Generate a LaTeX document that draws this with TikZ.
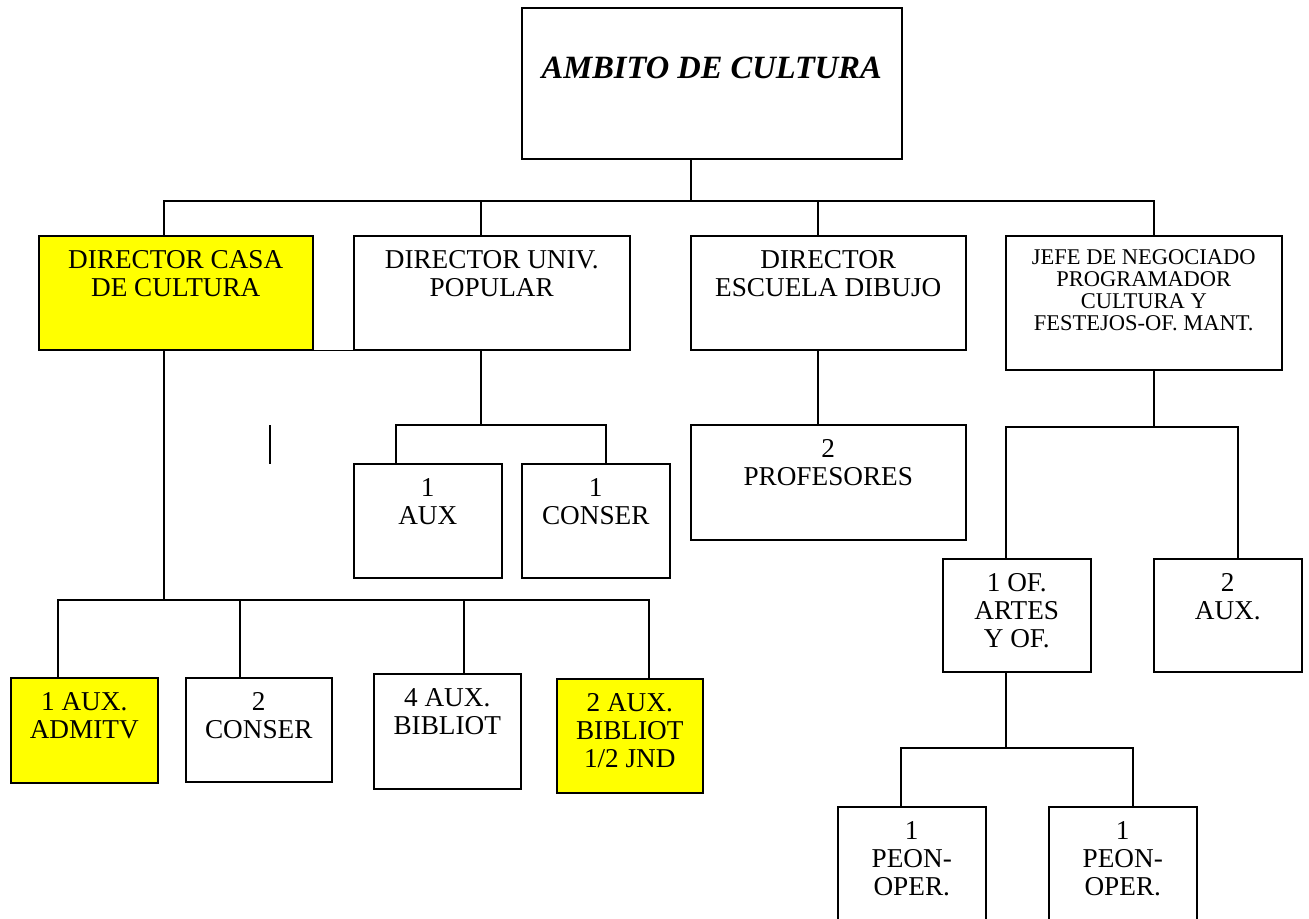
\documentclass[tikz,border=0pt]{standalone}
\usepackage{fontspec}
\setmainfont{Liberation Serif}
\definecolor{amarillo}{RGB}{255,255,0}
\tikzset{
  % caja del organigrama
  caja/.style = {
    draw = black,
    line width = 0.9pt,
    rectangle,
    anchor = north west,
    inner sep = 0
  },
  % caja resaltada en amarillo
  amarilla/.style = {
    caja,
    fill = amarillo
  },
  % texto dentro de una caja, colgado de su borde superior
  rotulo base/.style = {
    anchor = north,
    align = center,
    inner sep = 0
  },
  rotulo/.style = {
    rotulo base,
    yshift = -0.3cm,
    font = \fontsize{15.5}{15.94}\selectfont
  },
  rotulo chico/.style = {
    rotulo base,
    yshift = -0.28cm,
    font = \fontsize{12.8}{12.6}\selectfont
  },
  rotulo titulo/.style = {
    rotulo base,
    yshift = -1.0cm,
    font = \fontsize{18.5}{20}\selectfont\bfseries\itshape
  },
  linea/.style = {
    draw = black,
    line width = 0.9pt
  }
}
\begin{document}
\begin{tikzpicture}[x=0.02cm, y=-0.02cm]
    \useasboundingbox (0,0) rectangle (1309,919);

    % cajas
    \node[caja, minimum width=7.6cm, minimum height=3.02cm] (ambito) at (521,7) {};
    \node[amarilla, minimum width=5.48cm, minimum height=2.28cm] (casa) at (38,235) {};
    \node[caja, minimum width=5.52cm, minimum height=2.28cm] (univ) at (353,235) {};
    \node[caja, minimum width=5.5cm, minimum height=2.28cm] (escuela) at (690,235) {};
    \node[caja, minimum width=5.52cm, minimum height=2.68cm] (jefe) at (1005,235) {};
    \node[caja, minimum width=2.96cm, minimum height=2.28cm] (aux1) at (353,463) {};
    \node[caja, minimum width=2.96cm, minimum height=2.28cm] (conser1) at (521,463) {};
    \node[caja, minimum width=5.5cm, minimum height=2.3cm] (profes) at (690,424) {};
    \node[caja, minimum width=2.96cm, minimum height=2.26cm] (ofartes) at (942,558) {};
    \node[caja, minimum width=2.96cm, minimum height=2.26cm] (aux2) at (1153,558) {};
    \node[caja, minimum width=2.96cm, minimum height=2.6cm] (peon1) at (837,806) {};
    \node[caja, minimum width=2.96cm, minimum height=2.6cm] (peon2) at (1048,806) {};
    \node[amarilla, minimum width=2.94cm, minimum height=2.1cm] (admitv) at (10,677) {};
    \node[caja, minimum width=2.92cm, minimum height=2.08cm] (conser2) at (185,677) {};
    \node[caja, minimum width=2.94cm, minimum height=2.3cm] (biblio4) at (373,673) {};
    \node[amarilla, minimum width=2.92cm, minimum height=2.28cm] (biblio2) at (556,678) {};

    % textos
    \node[rotulo titulo] (ambito-t) at (ambito.north) {AMBITO DE CULTURA};
    \node[rotulo] (casa-t) at (casa.north) {DIRECTOR CASA\\DE CULTURA};
    \node[rotulo] (univ-t) at (univ.north) {DIRECTOR UNIV.\\POPULAR};
    \node[rotulo] (escuela-t) at (escuela.north) {DIRECTOR\\ESCUELA DIBUJO};
    \node[rotulo chico] (jefe-t) at (jefe.north) {JEFE DE NEGOCIADO\\PROGRAMADOR\\CULTURA Y\\FESTEJOS-OF. MANT.};
    \node[rotulo] (aux1-t) at (aux1.north) {1\\AUX};
    \node[rotulo] (conser1-t) at (conser1.north) {1\\CONSER};
    \node[rotulo] (profes-t) at (profes.north) {2\\PROFESORES};
    \node[rotulo] (ofartes-t) at (ofartes.north) {1 OF.\\ARTES\\Y OF.};
    \node[rotulo] (aux2-t) at (aux2.north) {2\\AUX.};
    \node[rotulo] (peon1-t) at (peon1.north) {1\\PEON-\\OPER.};
    \node[rotulo] (peon2-t) at (peon2.north) {1\\PEON-\\OPER.};
    \node[rotulo] (admitv-t) at (admitv.north) {1 AUX.\\ADMITV};
    \node[rotulo] (conser2-t) at (conser2.north) {2\\CONSER};
    \node[rotulo] (biblio4-t) at (biblio4.north) {4 AUX.\\BIBLIOT};
    \node[rotulo] (biblio2-t) at (biblio2.north) {2 AUX.\\BIBLIOT\\1/2 JND};

    % primer nivel
    \coordinate (b0) at (691,201);
    \coordinate (b1) at (164,201);
    \coordinate (b2) at (481,201);
    \coordinate (b3) at (818,201);
    \coordinate (b4) at (1154,201);
    \draw[linea] (b0 |- ambito.south) -- (b0);
    \draw[linea] (casa.north -| b1) |- (b4) -- (jefe.north -| b4);
    \foreach \b/\n in {b2/univ, b3/escuela}
      \draw[linea] (\b) -- (\b |- \n.north);
    \draw[linea] (casa.south east) -- (univ.south west);

    % casa de cultura
    \coordinate (c0) at (164,600);
    \coordinate (c1) at (58,600);
    \coordinate (c2) at (240,600);
    \coordinate (c3) at (464,600);
    \coordinate (c4) at (649,600);
    \draw[linea] (c0 |- casa.south) -- (c0);
    \draw[linea] (admitv.north -| c1) |- (c4) -- (biblio2.north -| c4);
    \foreach \c/\n in {c2/conser2, c3/biblio4}
      \draw[linea] (\c) -- (\c |- \n.north);
    \coordinate (marca-a) at (270,425);
    \coordinate (marca-b) at (270,464);
    \draw[linea] (marca-a) -- (marca-b);

    % universidad popular
    \coordinate (u0) at (481,425);
    \coordinate (u1) at (396,425);
    \coordinate (u2) at (606,425);
    \draw[linea] (u0 |- univ.south) -- (u0);
    \draw[linea] (aux1.north -| u1) |- (u2) -- (conser1.north -| u2);

    % escuela de dibujo
    \draw[linea] (escuela.south -| b3) -- (profes.north -| b3);

    % negociado
    \coordinate (j0) at (1154,427);
    \coordinate (j1) at (1006,427);
    \coordinate (j2) at (1238,427);
    \draw[linea] (j0 |- jefe.south) -- (j0);
    \draw[linea] (ofartes.north -| j1) |- (j2) -- (aux2.north -| j2);

    % oficial de artes
    \coordinate (o0) at (1006,748);
    \coordinate (o1) at (901,748);
    \coordinate (o2) at (1133,748);
    \draw[linea] (o0 |- ofartes.south) -- (o0);
    \draw[linea] (peon1.north -| o1) |- (o2) -- (peon2.north -| o2);
\end{tikzpicture}
\end{document}
